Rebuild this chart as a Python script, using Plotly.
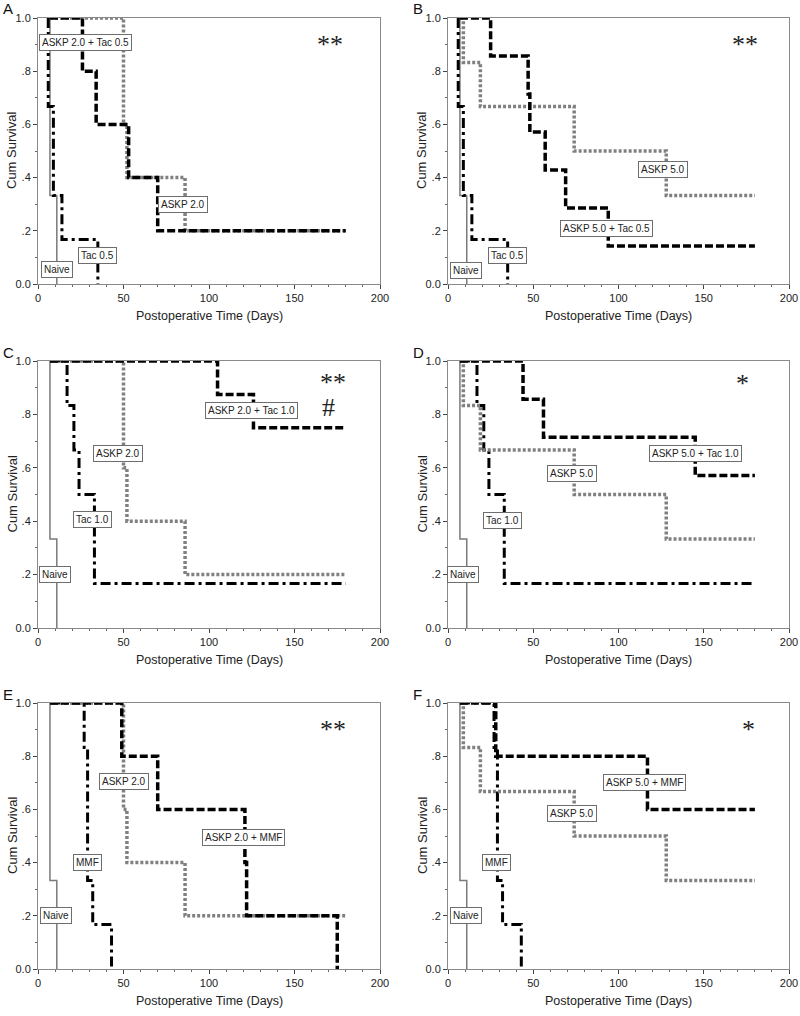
import plotly.graph_objects as go

# Kaplan-Meier steps: event days and survival after each event
# (first point = start of follow-up at 1.0, last point = end / censor)
naive_t = [7, 7, 11]
naive_s = [1, 0.333, 0]

tac05_t = [6, 6, 9, 14, 35]
tac05_s = [1, 0.667, 0.333, 0.167, 0]

tac10_t = [7, 17, 21, 24, 33, 180]
tac10_s = [1, 0.833, 0.667, 0.5, 0.167, 0.167]

mmf_t = [7, 27, 29, 32, 43]
mmf_s = [1, 0.833, 0.333, 0.167, 0]

askp20_t = [7, 50, 52, 86, 180]
askp20_s = [1, 0.6, 0.4, 0.2, 0.2]

askp50_t = [8, 9, 19, 74, 128, 180]
askp50_s = [1, 0.833, 0.667, 0.5, 0.333, 0.333]

askp20_tac05_t = [7, 26, 34, 53, 70, 180]
askp20_tac05_s = [1, 0.8, 0.6, 0.4, 0.2, 0.2]

askp50_tac05_t = [7, 25, 47, 48, 57, 69, 94, 180]
askp50_tac05_s = [1, 0.857, 0.714, 0.571, 0.429, 0.286, 0.143, 0.143]

askp20_tac10_t = [7, 105, 126, 180]
askp20_tac10_s = [1, 0.875, 0.75, 0.75]

askp50_tac10_t = [7, 44, 56, 145, 180]
askp50_tac10_s = [1, 0.857, 0.714, 0.571, 0.571]

askp20_mmf_t = [7, 49, 70, 121, 122, 175]
askp20_mmf_s = [1, 0.8, 0.6, 0.4, 0.2, 0]

askp50_mmf_t = [7, 28, 117, 180]
askp50_mmf_s = [1, 0.8, 0.6, 0.6]

y_ticks = [0, 0.2, 0.4, 0.6, 0.8, 1.0]
y_ticktext = ['0.0', '.2', '.4', '.6', '.8', '1.0']
x_ticks = [0, 50, 100, 150, 200]

FONT = 'Liberation Sans'
GREY = '#808080'

styles = {
    'naive': dict(color='#7a7a7a', width=1.5, dash='solid'),
    'drug': dict(color='black', width=3, dash='10px,4px,3px,4px'),
    'askp': dict(color=GREY, width=3.5, dash='3px,2px'),
    'combo': dict(color='black', width=3.5, dash='8px,3px'),
}

# panel: letter, curves (style, t, s), labels (text, x, y), stars
panels = [
    dict(letter='A',
         curves=[('naive', naive_t, naive_s), ('drug', tac05_t, tac05_s),
                 ('askp', askp20_t, askp20_s), ('combo', askp20_tac05_t, askp20_tac05_s)],
         labels=[('ASKP 2.0 + Tac 0.5', 27.5, 0.906), ('ASKP 2.0', 85, 0.30),
                 ('Tac 0.5', 35, 0.109), ('Naive', 11, 0.053)],
         stars=[('**', 171, 0.90)]),
    dict(letter='B',
         curves=[('naive', naive_t, naive_s), ('drug', tac05_t, tac05_s),
                 ('askp', askp50_t, askp50_s), ('combo', askp50_tac05_t, askp50_tac05_s)],
         labels=[('ASKP 5.0', 126, 0.432), ('ASKP 5.0 + Tac 0.5', 93, 0.207),
                 ('Tac 0.5', 35, 0.109), ('Naive', 10.5, 0.05)],
         stars=[('**', 174, 0.90)]),
    dict(letter='C',
         curves=[('naive', naive_t, naive_s), ('drug', tac10_t, tac10_s),
                 ('askp', askp20_t, askp20_s), ('combo', askp20_tac10_t, askp20_tac10_s)],
         labels=[('ASKP 2.0 + Tac 1.0', 125, 0.813), ('ASKP 2.0', 47, 0.655),
                 ('Tac 1.0', 32, 0.408), ('Naive', 10, 0.202)],
         stars=[('**', 172.5, 0.92), ('#', 170, 0.825)]),
    dict(letter='D',
         curves=[('naive', naive_t, naive_s), ('drug', tac10_t, tac10_s),
                 ('askp', askp50_t, askp50_s), ('combo', askp50_tac10_t, askp50_tac10_s)],
         labels=[('ASKP 5.0 + Tac 1.0', 145, 0.655), ('ASKP 5.0', 73, 0.58),
                 ('Tac 1.0', 32, 0.401), ('Naive', 9, 0.202)],
         stars=[('*', 173, 0.915)]),
    dict(letter='E',
         curves=[('naive', naive_t, naive_s), ('drug', mmf_t, mmf_s),
                 ('askp', askp20_t, askp20_s), ('combo', askp20_mmf_t, askp20_mmf_s)],
         labels=[('ASKP 2.0', 50, 0.706), ('ASKP 2.0 + MMF', 120, 0.496),
                 ('MMF', 29, 0.40), ('Naive', 10.5, 0.2)],
         stars=[('**', 172.5, 0.90)]),
    dict(letter='F',
         curves=[('naive', naive_t, naive_s), ('drug', mmf_t, mmf_s),
                 ('askp', askp50_t, askp50_s), ('combo', askp50_mmf_t, askp50_mmf_s)],
         labels=[('ASKP 5.0 + MMF', 115.5, 0.70), ('ASKP 5.0', 73, 0.583),
                 ('MMF', 28.5, 0.40), ('Naive', 10.5, 0.2)],
         stars=[('*', 176.5, 0.90)]),
]

W, H = 800, 1016
col_px = [(38, 380), (448, 789)]
row_px = [(18, 284), (361, 628), (703, 969)]


def px_x(p):
    return p / W


def px_y(p):
    return 1 - p / H


fig = go.Figure()
layout = dict(width=W, height=H,
              margin=dict(l=0, r=0, t=0, b=0, autoexpand=False),
              paper_bgcolor='white', plot_bgcolor='white', showlegend=False,
              font=dict(family=FONT, color='#222'))
annotations = []

for i, p in enumerate(panels):
    r, c = divmod(i, 2)
    x0, x1 = col_px[c]
    top, bot = row_px[r]
    n = '' if i == 0 else str(i + 1)
    xa, ya = 'x' + n, 'y' + n

    for style, t, s in p['curves']:
        fig.add_trace(go.Scatter(x=t, y=s, mode='lines', line_shape='hv',
                                 line=styles[style], xaxis=xa, yaxis=ya,
                                 hoverinfo='skip'))

    layout['xaxis' + n] = dict(
        domain=[px_x(x0), px_x(x1)], anchor=ya, range=[0, 200],
        tickvals=x_ticks, ticks='outside', ticklen=4, tickcolor='#444',
        minor=dict(dtick=10, ticks='outside', ticklen=2, tickcolor='#666'),
        showline=True, mirror=True, linecolor='#8a8a8a', linewidth=1,
        showgrid=False, zeroline=False, automargin=False,
        tickfont=dict(size=11))
    layout['yaxis' + n] = dict(
        domain=[px_y(bot), px_y(top)], anchor=xa, range=[0, 1],
        tickvals=y_ticks, ticktext=y_ticktext, ticks='outside', ticklen=4,
        tickcolor='#444',
        minor=dict(dtick=0.1, ticks='outside', ticklen=2, tickcolor='#666'),
        showline=True, mirror=True, linecolor='#8a8a8a', linewidth=1,
        showgrid=False, zeroline=False, automargin=False,
        tickfont=dict(size=11))

    for text, lx, ly in p['labels']:
        annotations.append(dict(text=text, x=lx, y=ly, xref=xa, yref=ya,
                                showarrow=False, bgcolor='white',
                                bordercolor='#6e6e6e', borderwidth=1,
                                borderpad=2, font=dict(size=10, color='#222')))
    for text, sx, sy in p['stars']:
        annotations.append(dict(text=text, x=sx, y=sy, xref=xa, yref=ya,
                                showarrow=False,
                                font=dict(family='Liberation Serif', size=26,
                                          color='#222')))

    # panel letter
    annotations.append(dict(text=p['letter'], x=px_x(x0 - 37), y=px_y(top - 9),
                            xref='paper', yref='paper', xanchor='left',
                            yanchor='middle', showarrow=False,
                            font=dict(size=15, color='#111')))
    # axis titles
    annotations.append(dict(text='Cum Survival', x=px_x(x0 - 26),
                            y=px_y((top + bot) / 2), xref='paper', yref='paper',
                            xanchor='center', yanchor='middle',
                            textangle=-90, showarrow=False,
                            font=dict(size=13, color='#222')))
    annotations.append(dict(text='Postoperative Time (Days)', x=px_x((x0 + x1) / 2),
                            y=px_y(bot + 32), xref='paper', yref='paper',
                            xanchor='center', yanchor='middle',
                            showarrow=False, font=dict(size=12.5, color='#222')))

layout['annotations'] = annotations
fig.update_layout(**layout)
# drop the default page margin so the figure sits at the window's corner
fig.write_html("out.html", config={'displayModeBar': False},
               post_script="document.body.style.margin='0';"
                           "document.body.style.overflow='hidden';")
